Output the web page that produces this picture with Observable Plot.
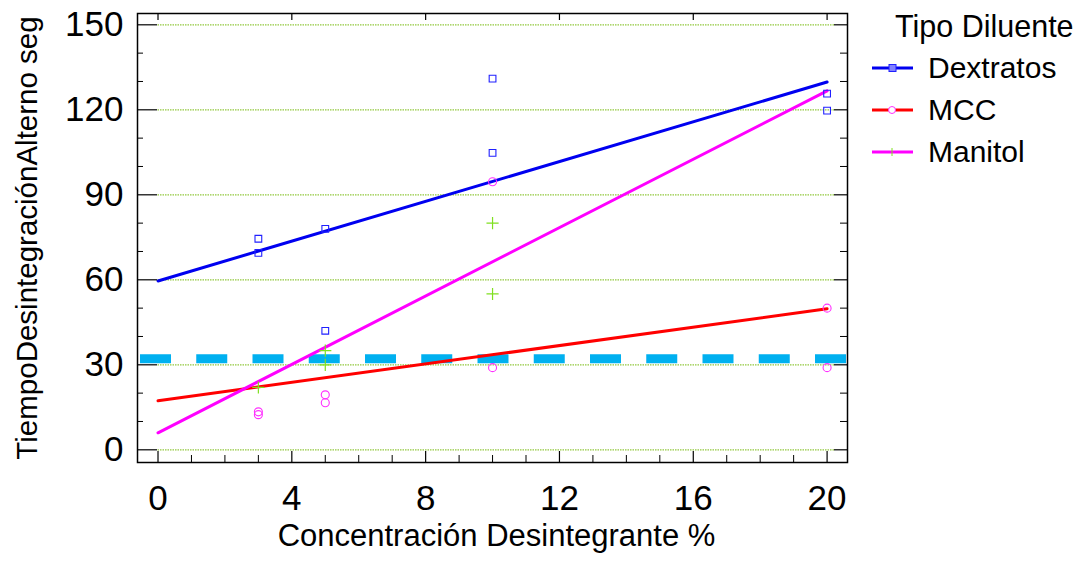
<!DOCTYPE html>
<html>
<head>
<meta charset="utf-8">
<script src="https://cdn.jsdelivr.net/npm/d3@7"></script>
<script src="https://cdn.jsdelivr.net/npm/@observablehq/plot@0.6"></script>
<style>
  html, body { margin: 0; padding: 0; background: #fff; }
  #chart { width: 1089px; height: 561px; }
</style>
</head>
<body>
<div id="chart"></div>
<script>
// ---- data ----
const diluentes = ["Dextratos", "MCC", "Manitol"];
const fitX = [0, 20];
const dextratosFit = [59.6, 129.8];
const mccFit = [17.3, 49.8];
const manitolFit = [6.0, 126.7];

const dextratosX = [3, 3, 5, 5, 10, 10, 20, 20];
const dextratosY = [74.5, 69.5, 78, 42, 131, 104.8, 125.7, 119.7];
const mccX = [3, 3, 5, 5, 10, 10, 20, 20];
const mccY = [13.4, 12.4, 19.4, 16.6, 94.6, 29, 50, 29];
const manitolX = [3, 5, 5, 10, 10];
const manitolY = [22, 35, 30, 80, 55];

const referenceY = [32.1];

const xTicks = [0, 4, 8, 12, 16, 20];
const xMinorTicks = d3.range(0, 21, 1);
const yTicks = [0, 30, 60, 90, 120, 150];
const yMinorTicks = d3.range(0, 151, 10);

const xLabel = "Concentración Desintegrante %";
const yLabel = "TiempoDesintegraciónAlterno seg";
const legendTitle = "Tipo Diluente";

// ---- build tables ----
const toPts = (xs, ys) => xs.map((x, i) => ({x, y: ys[i]}));
const fits = [dextratosFit, mccFit, manitolFit];
const lineColors = ["#0000f0", "#ff0000", "#ff00ff"];
const fitRows = diluentes.flatMap((d, k) => fitX.map((x, i) => ({serie: d, x, y: fits[k][i]})));

const W = 1089, H = 561;
const mL = 137, mR = 242, mT = 13, mB = 99;
const frameW = W - mL - mR, frameH = H - mT - mB;
const font = "'Liberation Sans', Arial, sans-serif";
const xDom = [-0.613, 20.61];

const chart = Plot.plot({
  width: W, height: H,
  marginLeft: mL, marginRight: mR, marginTop: mT, marginBottom: mB,
  style: {fontFamily: font, background: "#fff", color: "#000"},
  x: {domain: xDom},
  y: {domain: [-4.48, 153.99]},
  marks: [
    // grid
    Plot.ruleY(yTicks, {x1: 0, x2: 20.25, stroke: "#92c83e", strokeWidth: 1.2, strokeDasharray: "1.5,1"}),
    // reference dashed line
    Plot.ruleY(referenceY, {stroke: "#00b0f0", strokeWidth: 9, strokeDasharray: "31,25.25", strokeDashoffset: -3}),
    // fitted lines
    Plot.line(fitRows, {x: "x", y: "y", z: "serie", stroke: (d) => lineColors[diluentes.indexOf(d.serie)], strokeWidth: 3}),
    // points
    Plot.dot(toPts(dextratosX, dextratosY), {x: "x", y: "y", symbol: "square", r: 3.8, stroke: "#2020ff", strokeWidth: 1.1, fill: "none"}),
    Plot.dot(toPts(mccX, mccY), {x: "x", y: "y", symbol: "circle", r: 4, stroke: "#ff30ff", strokeWidth: 1.1, fill: "none"}),
    Plot.dot(toPts(manitolX, manitolY), {x: "x", y: "y", symbol: "plus", r: 4, stroke: "#80e020", strokeWidth: 1.2, fill: "none"}),
    // inner ticks: bottom
    Plot.tickX(xTicks, {x: (d) => d, insetTop: frameH - 11, stroke: "#000", strokeWidth: 1.2}),
    Plot.tickX(xMinorTicks.filter((d) => d % 4 !== 0), {x: (d) => d, insetTop: frameH - 7, stroke: "#000", strokeWidth: 1}),
    // inner ticks: top
    Plot.tickX(xTicks, {x: (d) => d, insetBottom: frameH - 7, stroke: "#000", strokeWidth: 1.2}),
    // inner ticks: left
    Plot.tickY(yTicks, {y: (d) => d, insetRight: frameW - 20, stroke: "#000", strokeWidth: 1.2}),
    Plot.tickY(yMinorTicks.filter((d) => d % 30 !== 0), {y: (d) => d, insetRight: frameW - 6, stroke: "#000", strokeWidth: 1}),
    // inner ticks: right
    Plot.tickY(yTicks, {y: (d) => d, insetLeft: frameW - 13, stroke: "#000", strokeWidth: 1.2}),
    Plot.tickY(yMinorTicks.filter((d) => d % 30 !== 0), {y: (d) => d, insetLeft: frameW - 7, stroke: "#000", strokeWidth: 1}),
    // axes
    Plot.axisX(xTicks, {tickSize: 0, tickPadding: 23, fontSize: 35, label: null}),
    Plot.axisY(yTicks, {tickSize: 0, tickPadding: 14, fontSize: 35, label: null}),
    // axis titles
    Plot.text([xLabel], {frameAnchor: "bottom", textAnchor: "middle", dx: 4, dy: 83, fontSize: 31, fill: "#000"}),
    Plot.text([yLabel], {frameAnchor: "left", textAnchor: "middle", rotate: -90, dx: -110, fontSize: 29.5, fill: "#000"}),
    // frame
    Plot.frame({stroke: "#000", strokeWidth: 1.5})
  ]
});

document.getElementById("chart").appendChild(chart);

// ---- legend (right side, inside same svg) ----
const svg = d3.select(chart.tagName.toLowerCase() === "svg" ? chart : chart.querySelector("svg"));
const lg = svg.append("g").attr("font-family", font).attr("text-anchor", "start");
lg.append("text").attr("x", 895).attr("y", 37).attr("font-size", 30.5).attr("fill", "#000").text(legendTitle);
const legendY = [68, 110, 152];
const markerColors = ["#2020ff", "#ff30ff", "#80e020"];
diluentes.forEach((d, i) => {
  const y = legendY[i];
  lg.append("line").attr("x1", 872).attr("x2", 913).attr("y1", y).attr("y2", y)
    .attr("stroke", lineColors[i]).attr("stroke-width", 3);
  if (i === 0) {
    lg.append("rect").attr("x", 889).attr("y", y - 3.5).attr("width", 7).attr("height", 7)
      .attr("fill", "#8080ff").attr("stroke", markerColors[i]).attr("stroke-width", 1);
  } else if (i === 1) {
    lg.append("circle").attr("cx", 892).attr("cy", y).attr("r", 3.5)
      .attr("fill", "#fff").attr("stroke", markerColors[i]).attr("stroke-width", 1);
  } else {
    lg.append("line").attr("x1", 892).attr("x2", 892).attr("y1", y - 4).attr("y2", y + 4)
      .attr("stroke", markerColors[i]).attr("stroke-width", 1);
  }
  lg.append("text").attr("x", 928).attr("y", y + 10).attr("font-size", 30).attr("fill", "#000").text(d);
});
</script>
</body>
</html>
